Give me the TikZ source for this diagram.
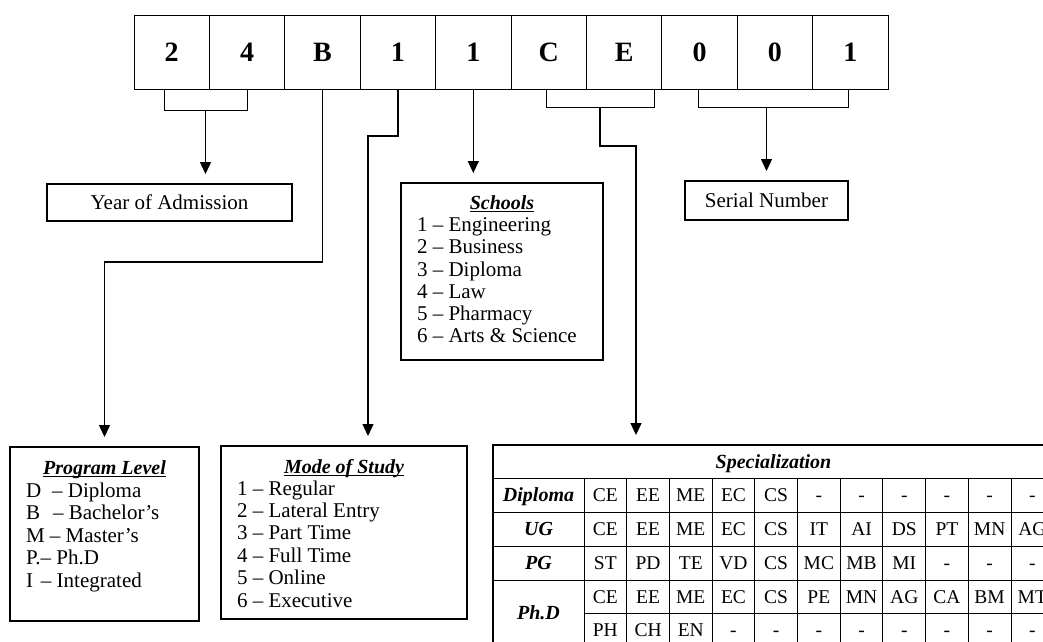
\documentclass[tikz,border=0pt]{standalone}
\usepackage{fontspec}
\setmainfont{Liberation Serif}
\usetikzlibrary{arrows.meta,calc}
\newcommand\myul[1]{\setbox0\hbox{#1}\rlap{\rule[-2.6pt]{\wd0}{1pt}}\box0}
\begin{document}
\begin{tikzpicture}[x=1pt,y=-1pt,
  every node/.style={inner sep=0pt, outer sep=0pt},
  cell/.style={draw, line width=1pt, minimum width=75.4pt, minimum height=74pt, font=\fontsize{28}{30}\selectfont\bfseries},
  brk/.style={draw, line width=1pt, anchor=north west},
  box/.style={draw, line width=1.1pt, anchor=north west},
  lbl/.style={font=\fontsize{21}{22}\selectfont},
  item/.style={anchor=base west, font=\fontsize{21}{22}\selectfont},
  ttl/.style={anchor=base, font=\fontsize{20}{22}\selectfont\bfseries\itshape},
  conn/.style={line width=1.4pt, -{Triangle[width=11pt,length=12pt]}, shorten >=10pt},
  tc/.style={font=\fontsize{19.5}{21}\selectfont, text height=13pt, text depth=0pt},
  th/.style={font=\fontsize{20}{21}\selectfont\bfseries\itshape, text height=13pt, text depth=0pt},
  tl/.style={line width=1pt},
]
\useasboundingbox (0,0) rectangle (1043,641);
\fill[white] (0,0) rectangle (1043,641);
\clip (0,0) rectangle (1043,641);

% top code cells
\foreach \t [count=\i] in {2,4,B,1,1,C,E,0,0,1}
  \node[cell] (c\i) at ({134+75.4*(\i-0.5)},52) {\t};

% brackets
\node[brk, minimum width=83pt, minimum height=21pt] (yb) at (164,89) {};
\node[brk, minimum width=108pt, minimum height=18pt] (sp) at (546,89) {};
\node[brk, minimum width=150pt, minimum height=18pt] (sb) at (698,89) {};

% boxes
\node[box, lbl, minimum width=245pt, minimum height=37pt] (year) at (47,184) {Year of Admission};
\node[box, lbl, minimum width=163pt, minimum height=39pt] (serial) at (685,181) {Serial Number};
\node[box, minimum width=202pt, minimum height=177pt] (schools) at (401,183) {};
\node[box, minimum width=189pt, minimum height=174pt] (prog) at (10,447) {};
\node[box, minimum width=246pt, minimum height=173pt] (mode) at (221,446) {};

% schools text
\node[ttl] (schoolst) at (502,209.3) {\myul{Schools}};
\foreach \t [count=\i] in {1 – Engineering,2 – Business,3 – Diploma,4 – Law,5 – Pharmacy,6 – Arts \& Science}
  \node[item] (s\i) at (417,{231.7+22.2*(\i-1)}) {\t};

% program level text
\node[ttl] (progt) at (104.5,474) {\myul{Program Level}};
\node[item] (p1) at (26,497) {D\hspace{11pt}– Diploma};
\node[item] (p2) at (26,519.5) {B\hspace{13pt}– Bachelor’s};
\node[item] (p3) at (26,542) {M – Master’s};
\node[item] (p4) at (26,564.5) {P.– Ph.D};
\node[item] (p5) at (26,587) {I\hspace{8pt}– Integrated};

% mode of study text
\node[ttl] (modet) at (344,473) {\myul{Mode of Study}};
\foreach \t [count=\i] in {1 – Regular,2 – Lateral Entry,3 – Part Time,4 – Full Time,5 – Online,6 – Executive}
  \node[item] (m\i) at (237,{495+22.4*(\i-1)}) {\t};

% specialization table
\draw[line width=1.1pt] (493,445) rectangle (1054,646);
\draw[tl] (493,478) -- (1054,478);
\draw[tl] (493,512) -- (1054,512);
\draw[tl] (493,546) -- (1054,546);
\draw[tl] (493,580) -- (1054,580);
\draw[tl] (584,613) -- (1054,613);
\draw[tl] (584,478) -- (584,646);
\foreach \k in {1,...,10}
  \draw[tl] ({584+42.7*\k},478) -- ({584+42.7*\k},646);
\node[th] (spechead) at (773.5,461.5) {Specialization};
\node[th] (lDip) at (538.5,495) {Diploma};
\node[th] (lUG) at (538.5,529) {UG};
\node[th] (lPG) at (538.5,563) {PG};
\node[th] (lPhD) at (538.5,613) {Ph.D};
\foreach \r/\y/\lst in {
  1/495/{CE,EE,ME,EC,CS,-,-,-,-,-,-},
  2/529/{CE,EE,ME,EC,CS,IT,AI,DS,PT,MN,AG},
  3/563/{ST,PD,TE,VD,CS,MC,MB,MI,-,-,-},
  4/596.5/{CE,EE,ME,EC,CS,PE,MN,AG,CA,BM,MT},
  5/629.5/{PH,CH,EN,-,-,-,-,-,-,-,-}}
  \foreach \t [count=\c] in \lst
    \node[tc] (t\r-\c) at ({584+42.7*(\c-0.5)},\y) {\t};

% connectors
\coordinate (mt) at ($(mode.north)+(24,0)$);
\coordinate (st) at (636,445);
\draw[conn] (yb.south) -- (yb.south |- year.north);
\draw[conn] (c3.south) -- ++(0,173) -| (prog.north);
\draw[conn] (c4.south) -- ++(0,47) -| (mt);
\draw[conn] (c5.south) -- (c5.south |- schools.north);
\draw[conn] (sp.south) -- ++(0,39) -| (st);
\draw[conn] (serial.north |- sb.south) -- (serial.north);
\end{tikzpicture}
\end{document}
